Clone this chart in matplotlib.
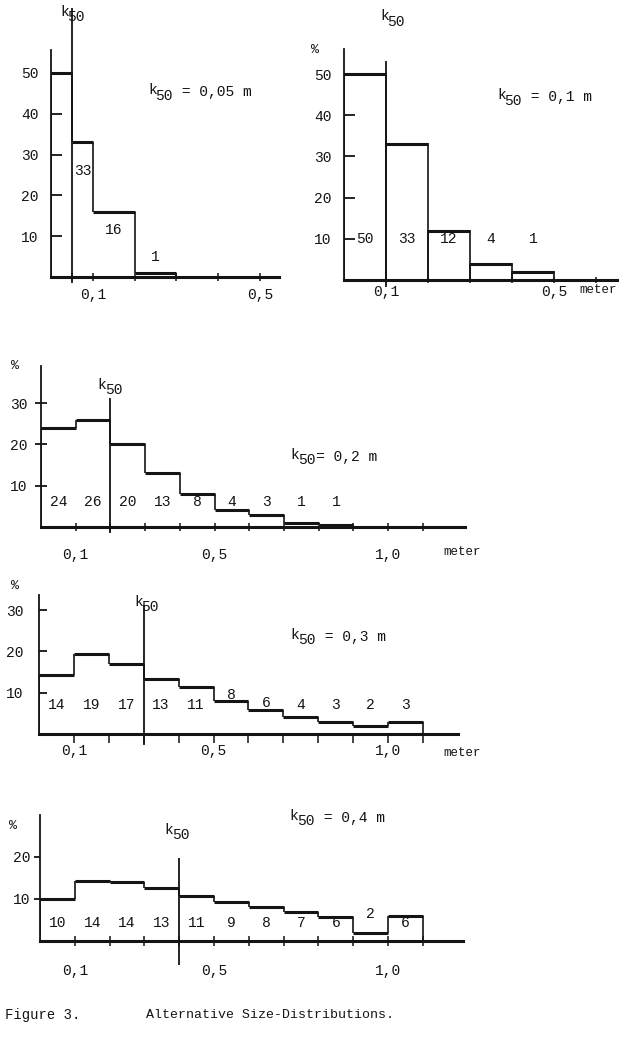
"""
Alternative size-distributions (Figure 3), redrawn with matplotlib.
"""

import numpy as np
import matplotlib
matplotlib.use("Agg")
from matplotlib import pyplot as plt

plt.rcParams['font.family'] = 'Liberation Mono'

INK = '#141414'
FONTSIZE = 10.5
W, H = 631, 1042

# ---- data ----
K50 = [0.05, 0.1, 0.2, 0.3, 0.4]
K50_NOTES = [" = 0,05 m", " = 0,1 m", "= 0,2 m", " = 0,3 m", " = 0,4 m"]

P1_EDGES = [0.0, 0.05, 0.1, 0.2, 0.3]
P1_PCT = [50, 33, 16, 1]
P1_LABELS = ["", "33", "16", "1"]

P2_EDGES = [0.0, 0.1, 0.2, 0.3, 0.4, 0.5]
P2_PCT = [50, 33, 12, 4, 2]
P2_LABELS = ["50", "33", "12", "4", "1"]

P3_EDGES = [0.0, 0.1, 0.2, 0.3, 0.4, 0.5, 0.6, 0.7, 0.8, 0.9]
P3_PCT = [24, 26, 20, 13, 8, 4, 3, 1, 0.6]
P3_LABELS = ["24", "26", "20", "13", "8", "4", "3", "1", "1"]

P4_EDGES = [0.0, 0.1, 0.2, 0.3, 0.4, 0.5, 0.6, 0.7, 0.8, 0.9, 1.0, 1.1]
P4_PCT = [14.3, 19.4, 17, 13.3, 11.4, 8, 5.8, 4.2, 3, 1.9, 3]
P4_LABELS = ["14", "19", "17", "13", "11", "8", "6", "4", "3", "2", "3"]

P5_EDGES = [0.0, 0.1, 0.2, 0.3, 0.4, 0.5, 0.6, 0.7, 0.8, 0.9, 1.0, 1.1]
P5_PCT = [10, 14.2, 14, 12.7, 10.8, 9.2, 8, 7, 5.6, 2, 6]
P5_LABELS = ["10", "14", "14", "13", "11", "9", "8", "7", "6", "2", "6"]

# ---- layout (pixel geometry of each panel) ----
# x0/y0: pixel position of data origin, sx/sy: pixels per data unit
PANELS = [
    dict(x0=51, y0=277, sx=418, sy=4.08, xmax=0.545, ymax=66, yaxis_top=55.6,
         yticks=[10, 20, 30, 40, 50], ydir='in', ylen=8, ypad=9,
         xticks=[0.05, 0.1, 0.2, 0.3, 0.4, 0.5], xdir='inout', xlen=6, xpad=5,
         k50_span=(-1.5, 65.9), k50_lab=(0.053, 64.5), note=(0.232, 45.3),
         lab_y=[0, 26, 11.5, 5], pct=None, meter=None, bars=False),
    dict(x0=344, y0=280, sx=420, sy=4.12, xmax=0.65, ymax=68, yaxis_top=56,
         yticks=[10, 20, 30, 40, 50], ydir='in', ylen=8, ypad=9,
         xticks=[0.1, 0.2, 0.3, 0.4, 0.5, 0.6], xdir='inout', xlen=5, xpad=1,
         k50_span=(-1.7, 53.2), k50_lab=(0.117, 63.5), note=(0.364, 44.4),
         lab_y=[10, 10, 10, 10, 10], pct=(315, 50), meter=(598, 290), bars=True),
    dict(x0=41, y0=527, sx=347, sy=4.13, xmax=1.222, ymax=40.4, yaxis_top=39,
         yticks=[10, 20, 30], ydir='inout', ylen=8, ypad=6,
         xticks=[0.1, 0.2, 0.3, 0.4, 0.5, 0.6, 0.7, 0.8, 0.9, 1.0, 1.1],
         xdir='inout', xlen=6, xpad=12,
         k50_span=(-1.5, 31.2), k50_lab=(0.2, 33.9), note=(0.718, 17),
         lab_y=[6] * 9, pct=(15, 366), meter=(462, 552), bars=False),
    dict(x0=39, y0=734, sx=349, sy=4.13, xmax=1.2, ymax=36.6, yaxis_top=33.6,
         yticks=[10, 20, 30], ydir='in', ylen=6, ypad=11,
         xticks=[0.1, 0.2, 0.3, 0.4, 0.5, 0.6, 0.7, 0.8, 0.9, 1.0, 1.1],
         xdir='out', xlen=6.5, xpad=1,
         k50_span=(-2.7, 31.2), k50_lab=(0.31, 31.5), note=(0.72, 23.5),
         lab_y=[7, 7, 7, 7, 7, 9.4, 7.5, 7, 7, 7, 7], pct=(15, 586),
         meter=(462, 753), bars=False),
    dict(x0=40, y0=941, sx=348, sy=4.2, xmax=1.215, ymax=32.4, yaxis_top=30,
         yticks=[10, 20], ydir='out', ylen=4, ypad=3,
         xticks=[0.1, 0.2, 0.3, 0.4, 0.5, 0.6, 0.7, 0.8, 0.9, 1.0, 1.1],
         xdir='inout', xlen=7, xpad=13,
         k50_span=(-5.7, 19.8), k50_lab=(0.395, 26), note=(0.718, 29.3),
         lab_y=[4.2] * 9 + [6.4, 4.2], pct=(13, 826), meter=None, bars=False),
]

EDGES = [P1_EDGES, P2_EDGES, P3_EDGES, P4_EDGES, P5_EDGES]
PCTS = [P1_PCT, P2_PCT, P3_PCT, P4_PCT, P5_PCT]
LABELS = [P1_LABELS, P2_LABELS, P3_LABELS, P4_LABELS, P5_LABELS]


def tick_text(value):
    """Decimal comma tick labels, only 0,1 / 0,5 / 1,0 are printed."""
    for shown in (0.1, 0.5, 1.0):
        if abs(value - shown) < 1e-9:
            return ("%.1f" % value).replace(".", ",")
    return ""


def k50_text(ax, x, y, suffix="", centered=False, fs=FONTSIZE):
    """
    Typewriter style 'k' with a lowered full size '50', then an optional suffix.
    """
    cw = 0.6 * fs  # monospace character width in points
    x_off = -1.5 * cw if centered else 0.0
    kw = dict(xy=(x, y), xycoords='data', textcoords='offset points',
              ha='left', va='center', fontsize=fs, color=INK,
              annotation_clip=False)
    ax.annotate("k", xytext=(x_off, 1.5), **kw)
    ax.annotate("50", xytext=(x_off + cw * 0.85, -2.5), **kw)
    if suffix:
        ax.annotate(suffix, xytext=(x_off + cw * 2.9, 0), **kw)


def draw_panel(fig, lay, edges, pct, labels, k50, note):
    """
    Draw one step-histogram panel placed by its pixel geometry.
    """
    ax = fig.add_axes([lay['x0'] / W, 1 - lay['y0'] / H,
                       lay['xmax'] * lay['sx'] / W, lay['ymax'] * lay['sy'] / H])
    ax.set_xlim(0, lay['xmax'])
    ax.set_ylim(0, lay['ymax'])
    ax.patch.set_alpha(0)

    def px(x_px, y_px):
        return (x_px - lay['x0']) / lay['sx'], (lay['y0'] - y_px) / lay['sy']

    for side in ['top', 'right']:
        ax.spines[side].set_visible(False)
    ax.spines['left'].set_bounds(0, lay['yaxis_top'])
    ax.spines['left'].set_linewidth(1.3)
    ax.spines['left'].set_color(INK)
    ax.spines['bottom'].set_linewidth(2.2)
    ax.spines['bottom'].set_color(INK)

    ax.set_yticks(lay['yticks'])
    ax.set_yticklabels([str(t) for t in lay['yticks']])
    ax.set_xticks(lay['xticks'])
    ax.set_xticklabels([tick_text(t) for t in lay['xticks']])
    ax.tick_params(axis='y', direction=lay['ydir'], length=lay['ylen'], width=1.3,
                   pad=lay['ypad'], labelsize=FONTSIZE, colors=INK)
    ax.tick_params(axis='x', direction=lay['xdir'], length=lay['xlen'], width=1.1,
                   pad=lay['xpad'], labelsize=FONTSIZE, colors=INK)

    edges = np.asarray(edges)
    pct = np.asarray(pct, dtype=float)

    if lay['bars']:
        ax.bar(edges[:-1], pct, width=np.diff(edges), align='edge', fill=False,
               edgecolor=INK, linewidth=1.2)
    else:
        prev = np.r_[0, pct]
        nxt = np.r_[pct, 0]
        ax.vlines(edges, np.minimum(prev, nxt), np.maximum(prev, nxt),
                  color=INK, linewidth=1.2)
    ax.hlines(pct, edges[:-1], edges[1:], color=INK, linewidth=2.2)

    centers = (edges[:-1] + edges[1:]) / 2
    for xc, yl, lab in zip(centers, lay['lab_y'], labels):
        if lab:
            ax.text(xc, yl, lab, ha='center', va='center', fontsize=FONTSIZE, color=INK)

    # k50 marker line
    ax.vlines(k50, lay['k50_span'][0], lay['k50_span'][1], color=INK,
              linewidth=1.3, clip_on=False)
    k50_text(ax, lay['k50_lab'][0], lay['k50_lab'][1], centered=True)
    k50_text(ax, lay['note'][0], lay['note'][1], suffix=note)

    if lay['pct'] is not None:
        xp, yp = px(*lay['pct'])
        ax.text(xp, yp, "%", ha='center', va='center', fontsize=FONTSIZE - 1,
                color=INK, clip_on=False)
    if lay['meter'] is not None:
        xm, ym = px(*lay['meter'])
        ax.text(xm, ym, "meter", ha='center', va='center', fontsize=FONTSIZE - 1.5,
                color=INK, clip_on=False)
    return ax


fig = plt.figure(figsize=(W / 100, H / 100), dpi=100)
fig.patch.set_facecolor('white')

for i, lay in enumerate(PANELS):
    draw_panel(fig, lay, EDGES[i], PCTS[i], LABELS[i], K50[i], K50_NOTES[i])

fig.text(5 / W, 1 - 1015 / H, "Figure 3.", ha='left', va='center',
         fontsize=10, color=INK)
fig.text(146 / W, 1 - 1015 / H, "Alternative Size-Distributions.", ha='left',
         va='center', fontsize=9.5, color=INK)

fig.savefig("out.png", dpi=100, facecolor='white')
